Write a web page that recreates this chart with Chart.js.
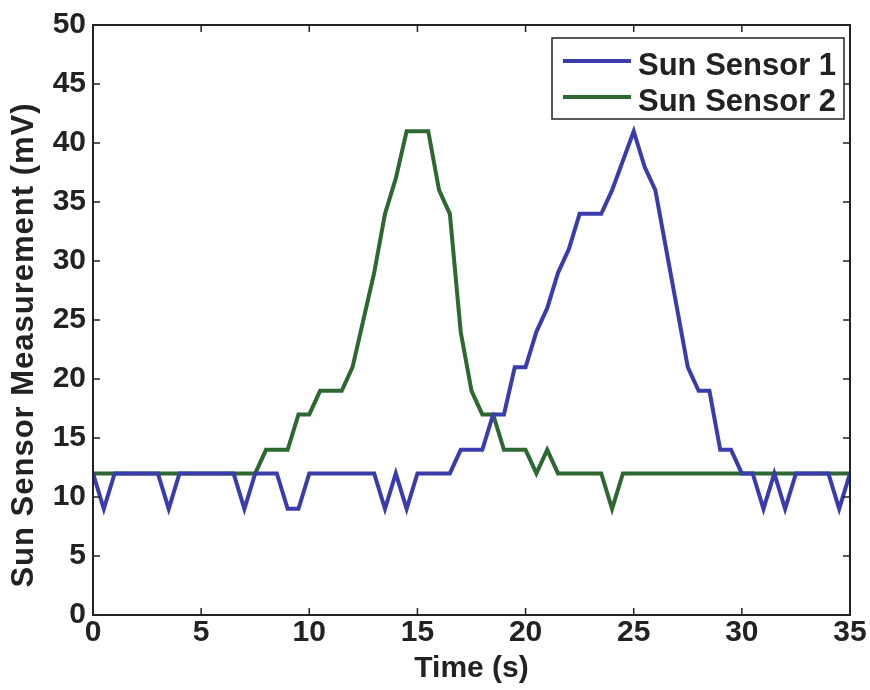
<!DOCTYPE html>
<html>
<head>
<meta charset="utf-8">
<script src="https://cdn.jsdelivr.net/npm/chart.js@4.4.0/dist/chart.umd.min.js"></script>
<style>
  html, body { margin: 0; padding: 0; background: #fff; }
  #wrap { width: 870px; height: 690px; }
</style>
</head>
<body>
<div id="wrap"><canvas id="sunChart" width="870" height="690"></canvas></div>
<script>
// sample times (s), one reading every half second
const times = [
  0, 0.5, 1, 1.5, 2, 2.5, 3, 3.5, 4, 4.5,
  5, 5.5, 6, 6.5, 7, 7.5, 8, 8.5, 9, 9.5,
  10, 10.5, 11, 11.5, 12, 12.5, 13, 13.5, 14, 14.5,
  15, 15.5, 16, 16.5, 17, 17.5, 18, 18.5, 19, 19.5,
  20, 20.5, 21, 21.5, 22, 22.5, 23, 23.5, 24, 24.5,
  25, 25.5, 26, 26.5, 27, 27.5, 28, 28.5, 29, 29.5,
  30, 30.5, 31, 31.5, 32, 32.5, 33, 33.5, 34, 34.5,
  35
];

const sensor1 = [
  12, 9, 12, 12, 12, 12, 12, 9, 12, 12,
  12, 12, 12, 12, 9, 12, 12, 12, 9, 9,
  12, 12, 12, 12, 12, 12, 12, 9, 12, 9,
  12, 12, 12, 12, 14, 14, 14, 17, 17, 21,
  21, 24, 26, 29, 31, 34, 34, 34, 36, 38.5,
  41, 38, 36, 31, 26, 21, 19, 19, 14, 14,
  12, 12, 9, 12, 9, 12, 12, 12, 12, 9,
  12
];
const sensor2 = [
  12, 12, 12, 12, 12, 12, 12, 12, 12, 12,
  12, 12, 12, 12, 12, 12, 14, 14, 14, 17,
  17, 19, 19, 19, 21, 25, 29, 34, 37, 41,
  41, 41, 36, 34, 24, 19, 17, 17, 14, 14,
  14, 12, 14, 12, 12, 12, 12, 12, 9, 12,
  12, 12, 12, 12, 12, 12, 12, 12, 12, 12,
  12, 12, 12, 12, 12, 12, 12, 12, 12, 12,
  12
];

const seriesNames = ["Sun Sensor 1", "Sun Sensor 2"];
const seriesColors = ["rgb(58, 60, 172)", "rgb(44, 104, 48)"];
const xTickValues = [0, 5, 10, 15, 20, 25, 30, 35];
const yTickValues = [0, 5, 10, 15, 20, 25, 30, 35, 40, 45, 50];
const yTitle = "Sun Sensor Measurement (mV)";

const FONT = "'Liberation Sans', Arial, Helvetica, sans-serif";
const INK = "#222";

function toPoints(values) {
  return times.map((t, i) => ({ x: t, y: values[i] }));
}

// matlab style box with inward ticks on all four sides
const frameTicks = {
  id: "frameTicks",
  afterDatasetsDraw(chart) {
    const { ctx, chartArea: a, scales } = chart;
    const len = 7;
    ctx.save();
    ctx.strokeStyle = INK;
    ctx.lineWidth = 2;
    ctx.strokeRect(a.left, a.top, a.right - a.left, a.bottom - a.top);
    ctx.lineWidth = 1.5;
    ctx.beginPath();
    xTickValues.forEach((v) => {
      const px = scales.x.getPixelForValue(v);
      ctx.moveTo(px, a.bottom);
      ctx.lineTo(px, a.bottom - len);
      ctx.moveTo(px, a.top);
      ctx.lineTo(px, a.top + len);
    });
    yTickValues.forEach((v) => {
      const py = scales.y.getPixelForValue(v);
      ctx.moveTo(a.left, py);
      ctx.lineTo(a.left + len, py);
      ctx.moveTo(a.right, py);
      ctx.lineTo(a.right - len, py);
    });
    ctx.stroke();
    ctx.restore();
  },
};

// legend box inside the top right corner + the rotated y title
const boxLegend = {
  id: "boxLegend",
  afterDraw(chart) {
    const { ctx, chartArea: a } = chart;
    const boxRight = a.right - 6;
    const boxLeft = boxRight - 292;
    const boxTop = a.top + 13;
    const boxH = 81;
    ctx.save();
    ctx.fillStyle = "#fff";
    ctx.fillRect(boxLeft, boxTop, boxRight - boxLeft, boxH);
    ctx.strokeStyle = INK;
    ctx.lineWidth = 1.5;
    ctx.strokeRect(boxLeft, boxTop, boxRight - boxLeft, boxH);
    ctx.font = "bold 31px " + FONT;
    ctx.textBaseline = "alphabetic";
    ctx.textAlign = "left";
    chart.data.datasets.forEach((ds, i) => {
      const lineY = boxTop + 23 + i * 36;
      ctx.strokeStyle = ds.borderColor;
      ctx.lineWidth = 4;
      ctx.beginPath();
      ctx.moveTo(boxLeft + 11, lineY);
      ctx.lineTo(boxLeft + 79, lineY);
      ctx.stroke();
      ctx.fillStyle = INK;
      ctx.fillText(ds.label, boxLeft + 86, lineY + 14);
    });
    ctx.restore();

    ctx.save();
    ctx.translate(33, 345);
    ctx.rotate(-Math.PI / 2);
    ctx.font = "bold 31px " + FONT;
    if ("letterSpacing" in ctx) ctx.letterSpacing = "1px";
    ctx.fillStyle = INK;
    ctx.textAlign = "center";
    ctx.textBaseline = "alphabetic";
    ctx.fillText(yTitle, 0, 0);
    ctx.restore();
  },
};

new Chart(document.getElementById("sunChart"), {
  type: "line",
  data: {
    datasets: [
      {
        label: seriesNames[0],
        data: toPoints(sensor1),
        borderColor: seriesColors[0],
        borderWidth: 4,
        pointRadius: 0,
        tension: 0,
      },
      {
        label: seriesNames[1],
        data: toPoints(sensor2),
        borderColor: seriesColors[1],
        borderWidth: 4,
        pointRadius: 0,
        tension: 0,
      },
    ],
  },
  options: {
    responsive: false,
    animation: false,
    devicePixelRatio: 1,
    layout: { padding: { top: 21, right: 20, left: 0, bottom: 0 } },
    plugins: {
      legend: { display: false },
      tooltip: { enabled: false },
    },
    scales: {
      x: {
        type: "linear",
        min: 0,
        max: 35,
        afterBuildTicks: (scale) => {
          scale.ticks = xTickValues.map((v) => ({ value: v }));
        },
        afterFit: (scale) => {
          scale.height = 75;
        },
        grid: { display: false, drawTicks: false },
        border: { display: false },
        ticks: {
          padding: 0,
          color: INK,
          font: { family: FONT, size: 30, weight: "bold" },
          maxRotation: 0,
        },
        title: {
          display: true,
          text: "Time (s)",
          color: INK,
          padding: { top: 0, bottom: 3 },
          font: { family: FONT, size: 30, weight: "bold" },
        },
      },
      y: {
        min: 0,
        max: 50,
        afterBuildTicks: (scale) => {
          scale.ticks = yTickValues.map((v) => ({ value: v }));
        },
        afterFit: (scale) => {
          scale.width = 93;
        },
        grid: { display: false, drawTicks: false },
        border: { display: false },
        ticks: {
          padding: 7,
          color: INK,
          font: { family: FONT, size: 30, weight: "bold" },
        },
      },
    },
  },
  plugins: [frameTicks, boxLegend],
});
</script>
</body>
</html>
